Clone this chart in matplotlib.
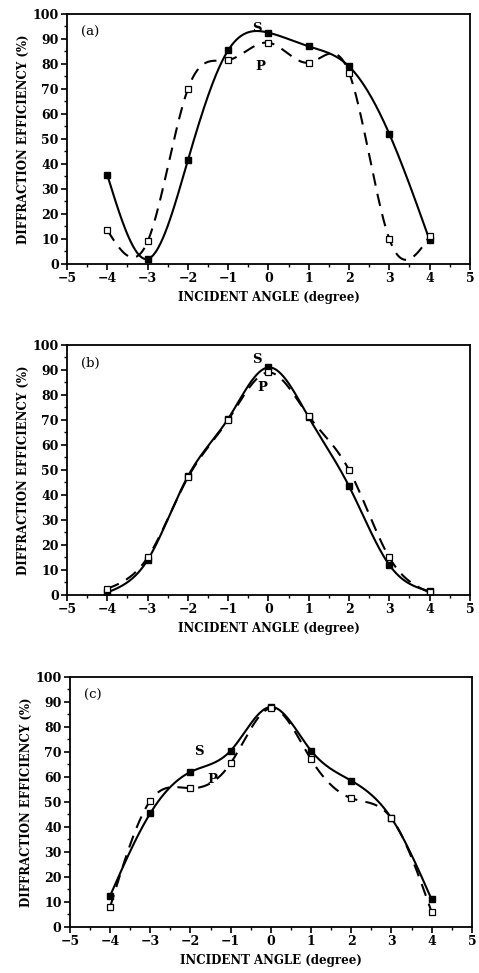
import numpy as np
import matplotlib
matplotlib.use('Agg')
import matplotlib.pyplot as plt
from matplotlib.ticker import MultipleLocator

# incident angles (degree)
angles = [-4, -3, -2, -1, 0, 1, 2, 3, 4]

# diffraction efficiency (%)
s_a = [35.5, 2, 41.5, 85.5, 92.5, 87, 79, 52, 9.5]
p_a = [13.5, 9, 70, 81.5, 88.5, 80.5, 76.5, 10, 11]
s_b = [1, 14, 47.5, 70.5, 91, 71, 43.5, 12, 1.5]
p_b = [2.5, 15, 47, 70, 89, 71.5, 50, 15, 1]
s_c = [12.5, 45.5, 62, 70.5, 88, 70.5, 58.5, 43.5, 11]
p_c = [8, 50.5, 55.5, 65.5, 87.5, 67, 51.5, 43.5, 6]

panel_tags = ['(a)', '(b)', '(c)']
# where the S / P labels sit in each panel (x, y)
s_label_pos = [(-0.3, 94), (-0.3, 94), (-1.8, 70)]
p_label_pos = [(-0.2, 79), (-0.15, 83), (-1.45, 59)]


def natural_spline(x, y, n=400):
    # plain natural cubic spline, only used to draw the smooth curve
    x = np.asarray(x, float)
    y = np.asarray(y, float)
    h = np.diff(x)
    m = len(x)
    A = np.zeros((m, m))
    r = np.zeros(m)
    A[0, 0] = A[-1, -1] = 1
    for i in range(1, m - 1):
        A[i, i - 1] = h[i - 1]
        A[i, i] = 2 * (h[i - 1] + h[i])
        A[i, i + 1] = h[i]
        r[i] = 3 * ((y[i + 1] - y[i]) / h[i] - (y[i] - y[i - 1]) / h[i - 1])
    c = np.linalg.solve(A, r)
    xs = np.linspace(x[0], x[-1], n)
    idx = np.clip(np.searchsorted(x, xs) - 1, 0, m - 2)
    dx = xs - x[idx]
    b = (y[1:] - y[:-1]) / h - h * (2 * c[:-1] + c[1:]) / 3
    d = (c[1:] - c[:-1]) / (3 * h)
    ys = y[idx] + b[idx] * dx + c[idx] * dx ** 2 + d[idx] * dx ** 3
    return xs, ys


plt.rcParams['font.family'] = ['DejaVu Serif']
plt.rcParams['font.weight'] = 'bold'

fig = plt.figure(figsize=(4.79, 9.73), dpi=100)
positions = [
    [0.140, 0.7287, 0.841, 0.257],
    [0.140, 0.3885, 0.841, 0.257],
    [0.146, 0.0473, 0.839, 0.257],
]
data = [(s_a, p_a), (s_b, p_b), (s_c, p_c)]

for k, (s_vals, p_vals) in enumerate(data):
    ax = fig.add_axes(positions[k])
    xs, ys = natural_spline(angles, s_vals)
    ax.plot(xs, ys, color='black', lw=1.5)
    xp, yp = natural_spline(angles, p_vals)
    ax.plot(xp, yp, color='black', lw=1.5, dashes=(6, 4))
    ax.plot(angles, s_vals, 's', color='black', markersize=4)
    ax.plot(angles, p_vals, 's', mfc='white', mec='black', mew=0.9, markersize=4.5)

    ax.set_xlim(-5, 5)
    ax.set_ylim(0, 100)
    ax.xaxis.set_major_locator(MultipleLocator(1))
    ax.xaxis.set_minor_locator(MultipleLocator(0.5))
    ax.yaxis.set_major_locator(MultipleLocator(10))
    ax.yaxis.set_minor_locator(MultipleLocator(5))
    ax.tick_params(which='major', direction='out', length=4, width=1.2, labelsize=9, pad=2)
    ax.tick_params(which='minor', direction='out', length=2, width=1)
    ax.set_xticklabels([str(int(v)).replace('-', '\u2212') for v in ax.get_xticks()])
    for sp in ax.spines.values():
        sp.set_linewidth(1.3)

    ax.set_xlabel('INCIDENT ANGLE (degree)', fontsize=8.5, fontweight='bold', labelpad=4)
    ax.set_ylabel('DIFFRACTION EFFICIENCY (%)', fontsize=8.5, fontweight='bold', labelpad=2)

    ax.text(-4.65, 92.5, panel_tags[k], fontsize=9.5, fontweight='normal', va='center')
    ax.text(s_label_pos[k][0], s_label_pos[k][1], 'S', fontsize=9.5, fontweight='bold', ha='center', va='center')
    ax.text(p_label_pos[k][0], p_label_pos[k][1], 'P', fontsize=9.5, fontweight='bold', ha='center', va='center')

fig.savefig('out.png', dpi=100)
